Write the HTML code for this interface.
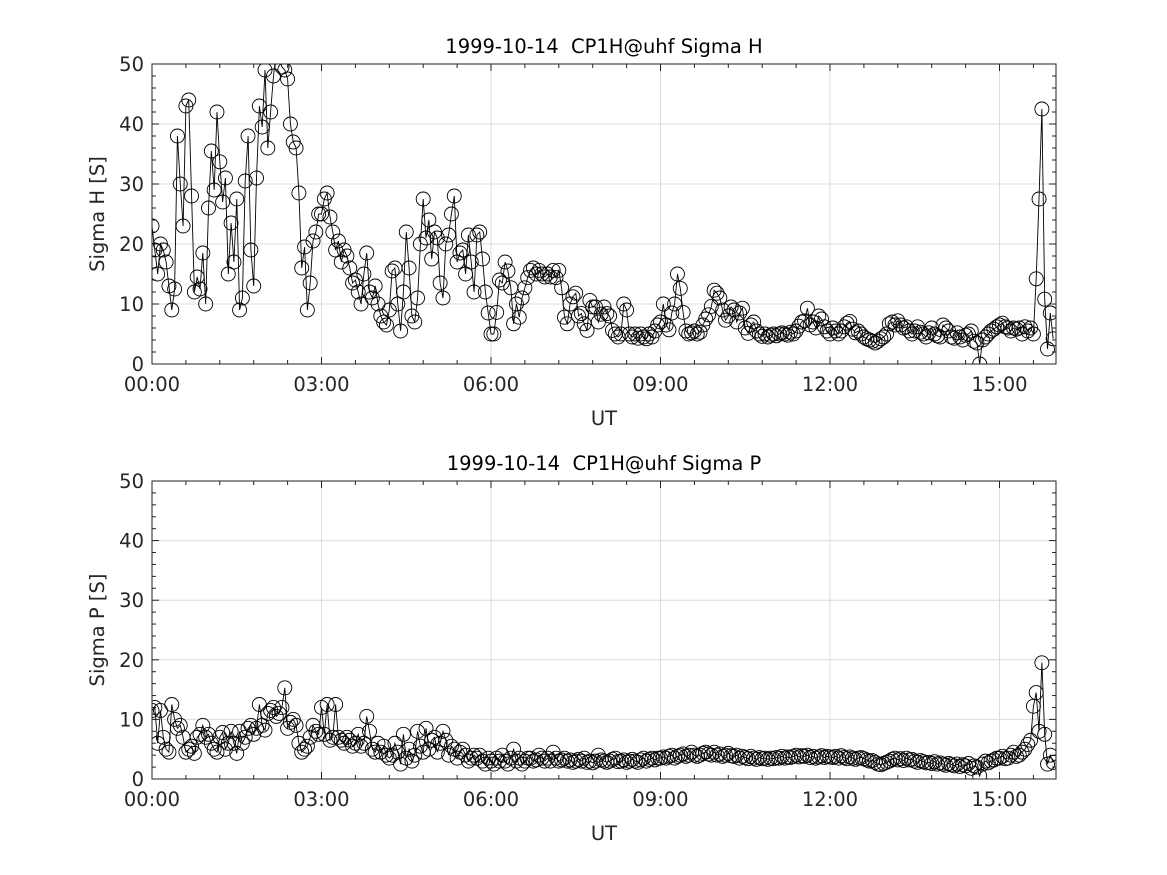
<!DOCTYPE html>
<html><head><meta charset="utf-8"><style>
html,body{margin:0;padding:0;background:#fff;}
svg{display:block;font-family:"DejaVu Sans","Liberation Sans",sans-serif;}
text{white-space:pre;}
</style></head><body>
<svg id="chart" width="1167" height="875" viewBox="0 0 1167 875">
<defs>
<clipPath id="clipTop"><rect x="152" y="64" width="904" height="300"/></clipPath>
<clipPath id="clipBot"><rect x="152" y="481" width="904" height="298"/></clipPath>
</defs>
</svg>
<script>
const sampleMinutes = 3;
const xTickLabels = ["00:00","03:00","06:00","09:00","12:00","15:00"];
const yTickLabels = [0,10,20,30,40,50];
const sigmaH = [
23,19,15,20,19,17,13,9,12.5,38,30,23,43,44,28,12,14.5,12.5,18.5,10,
26,35.5,29,42,33.7,27,31,15,23.5,17,27.5,9,11,30.5,38,19,13,31,43,39.5,
49,36,42,48,52,52,49.5,49,47.5,40,37,36,28.5,16,19.5,9,13.5,20.5,22,25,
25,27.5,28.5,24.5,22,19,20.5,17,19,18,16,13.5,14,12,10,15,18.5,12,11,13,
10,8,7,6.5,9,15.5,16,10,5.5,12,22,16,8,7,11,20,27.5,21,24,17.5,
22,21,13.5,11,20,21.5,25,28,17,18.5,19,15,21.5,17,12,21.5,22,17.5,12,8.5,
5,5,8.6,14,13.5,17,15.5,12.7,6.7,10,7.8,11,12.7,14.4,15.6,16,15,15.6,15,14.5,
15,14.5,15.6,14.4,15.6,12.7,7.8,6.7,10,11.2,11.8,8,8.4,6.7,5.6,10.6,9.5,9.5,7,8.3,
9.5,8.4,8,5.6,5,4.5,5,10,9,5,4.5,5,4.3,5,4.5,4.2,5,4.5,5.5,6.5,
7,10,6.5,5.7,8.5,10,15,12.6,8.6,5.5,5,5.2,5.5,5,5.3,6.5,7.5,8.2,9.6,12.3,
11.8,11,9,7.3,8,9.5,9,7,8.5,9.3,6,5.1,6.5,7,5.5,5,4.6,5,4.5,4.8,
5,4.7,5,5.2,5,4.8,5.3,5,5.5,6.3,7,7.2,9.3,6.5,7,6,8,7.5,6.2,5.5,
5,6,5.5,5,5.5,6.2,6.8,7.1,5.8,5.2,5.5,5,4.5,4.2,4,3.8,3.5,3.8,4.2,4.5,
5,6.7,7,6.5,7.2,6.5,6,6.2,5.5,5,5.5,6.2,5.3,5,4.5,5.2,6,5,4.7,4.5,
6.5,6,5.5,4.5,4.3,5.2,4.5,4,4.8,5,5.5,3.8,3.5,0,4,4.5,5,5.5,5.8,6.2,
6.5,6.8,6.2,6,5.5,6,5.8,6,5,6.2,5.5,6,5,14.2,27.5,42.5,10.8,2.5,8.5,4.2
];
const sigmaP = [
11.5,12,6,11.5,7,5,4.5,12.5,10,8.5,9,7,4.5,5,5.5,4.3,7,7.5,9,7,
7.5,6,5,4.5,7,7.8,5,6,8,6,4.3,8,6,7,8.5,9,7.5,8.5,12.5,9,
8.2,11,11.5,12,10.5,11,12,15.3,8.5,9.5,10,9,6,4.5,5,5.5,7,9,8,7.5,
12,7.5,12.5,6.5,7,12.5,7,6.5,6,7,6.5,5.5,6,7.5,5.5,6,10.5,8,5,4.5,
6,4.5,5.5,4,3.5,4,6,4.5,2.5,7.5,3.5,5,3,4,8,5.5,4.5,8.5,5,6.5,
7,4.5,6,8,6.5,4,5.5,5,3.5,4.5,5,4,3,3.5,4,3.5,4,3,2.5,3.5,
3,2.5,3.5,3,4,3,2.5,3.5,5,3,3.5,2.5,3,3.5,3.5,3,3.2,4,3.5,3,
3.5,3,4.5,3.5,3,3.2,3.5,3,3.2,2.8,3,3.3,3,3.5,2.8,3,2.7,3,4,3.2,
3,2.8,3,3.3,3.5,2.9,3,3.2,2.8,3,3.3,3,2.8,3.2,3.5,3,3.3,3.5,3.2,3.5,
3.5,3.7,3.5,3.8,4,3.5,3.8,4,4.2,3.8,4,4.5,4,3.8,4,4.3,4.5,4.2,4,4.5,
4,4.2,3.8,4,4.3,3.9,3.8,4,3.5,3.8,3.6,3.4,3.8,3.5,3.3,3.6,3.4,3.5,3.3,3.5,
3.4,3.6,3.5,3.8,3.5,3.7,3.6,3.8,4,3.7,3.9,3.8,4,3.6,3.8,3.5,3.7,3.9,3.6,3.8,
3.7,3.6,3.8,3.5,3.9,3.6,3.4,3.7,3.5,3.3,3.5,3.6,3.4,3.2,3,3.1,2.8,2.5,2.4,2.6,
2.8,3,3.3,3.5,3.2,3.4,3.1,3.5,3.2,3.3,3,2.8,3.1,2.9,2.7,2.8,2.6,2.9,2.5,2.7,
2.5,2.3,2.6,2.4,2.2,2.5,2.1,2.4,2.2,2.6,1.8,2.2,2,0.5,2.5,3,2.7,3,3.2,3.5,
3.5,3.8,3.4,3.5,4,4.5,3.8,4,4.5,5,5.8,6.5,12.2,14.5,8,19.5,7.5,2.5,4,2.8
];

const NS = "http://www.w3.org/2000/svg";
const svg = document.getElementById("chart");
const X0 = 152, X1 = 1056, XMAX = 16;
function xScale(h){ return X0 + h/XMAX*(X1-X0); }
function mk(tag, attrs, parent){
  const e = document.createElementNS(NS, tag);
  for (const k in attrs) e.setAttribute(k, attrs[k]);
  (parent||svg).appendChild(e);
  return e;
}

function panel(top, bottom, title, ylabel, values, clipId, key){
  const g = mk("g", {});
  
  
  const yScale = v => bottom - v/50*(bottom-top);
  const grid = mk("g", {stroke:"#dcdcdc","stroke-width":1}, g);
  
  
  for (let i=1;i<xTickLabels.length;i++){ const x = xScale(i*3); mk("line",{x1:x,x2:x,y1:top,y2:bottom},grid); }
  for (let i=1;i<yTickLabels.length-1;i++){ const y = yScale(yTickLabels[i]); mk("line",{x1:X0,x2:X1,y1:y,y2:y},grid); }
  const tk = mk("g", {stroke:"#222","stroke-width":1}, g);
  
  
  for (let m=0; m<=16*60; m+=36){
    const x = xScale(m/60); const major = m%180===0; const L = major?7:4;
    mk("line",{x1:x,x2:x,y1:bottom,y2:bottom-L},tk);
    mk("line",{x1:x,x2:x,y1:top,y2:top+L},tk);
  }
  for (let v=0; v<=50; v+=2){
    const y = yScale(v); const major = v%10===0; const L = major?7:4;
    mk("line",{x1:X0,x2:X0+L,y1:y,y2:y},tk);
    mk("line",{x1:X1,x2:X1-L,y1:y,y2:y},tk);
  }
  const dg = mk("g", {"clip-path":"url(#"+clipId+")"}, g);
  
  
  let d = "";
  values.forEach((v,i)=>{ const x = xScale(i*sampleMinutes/60), y = yScale(v); d += (i?"L":"M")+x.toFixed(1)+","+y.toFixed(1); });
  const line = mk("path",{d:d,fill:"none",stroke:"#000","stroke-width":0.9},dg);
  
  
  values.forEach((v,i)=>{
    const c = mk("circle",{cx:xScale(i*sampleMinutes/60),cy:yScale(v),r:7,fill:"none",stroke:"#000","stroke-width":0.9},dg);
    
    
  });
  const fr = mk("rect",{x:X0,y:top,width:X1-X0,height:bottom-top,fill:"none",stroke:"#222","stroke-width":1},g);
  
  
  xTickLabels.forEach((t,i)=>{
    const e = mk("text",{x:xScale(i*3),y:bottom+27,"text-anchor":"middle","font-size":19.5,fill:"#262626"},g);
    e.textContent = t;
    
    
  });
  yTickLabels.forEach(v=>{
    const e = mk("text",{x:X0-8,y:yScale(v)+7,"text-anchor":"end","font-size":19.5,fill:"#262626"},g);
    e.textContent = v;
    
    
  });
  const tt = mk("text",{x:604,y:top-11,"text-anchor":"middle","font-size":19.5,fill:"#000"},g);
  tt.textContent = title;
  
  
  const xl = mk("text",{x:604,y:bottom+61,"text-anchor":"middle","font-size":19.5,fill:"#262626"},g);
  xl.textContent = "UT";
  
  
  const cy = (top+bottom)/2;
  const yl = mk("text",{x:104,y:cy,"text-anchor":"middle","font-size":19.5,fill:"#262626",transform:"rotate(-90 104 "+cy+")"},g);
  yl.textContent = ylabel;
  
  
}
panel(64, 364, "1999-10-14  CP1H@uhf Sigma H", "Sigma H [S]", sigmaH, "clipTop", "sigma-h");
panel(481, 779, "1999-10-14  CP1H@uhf Sigma P", "Sigma P [S]", sigmaP, "clipBot", "sigma-p");
</script>
</body></html>
